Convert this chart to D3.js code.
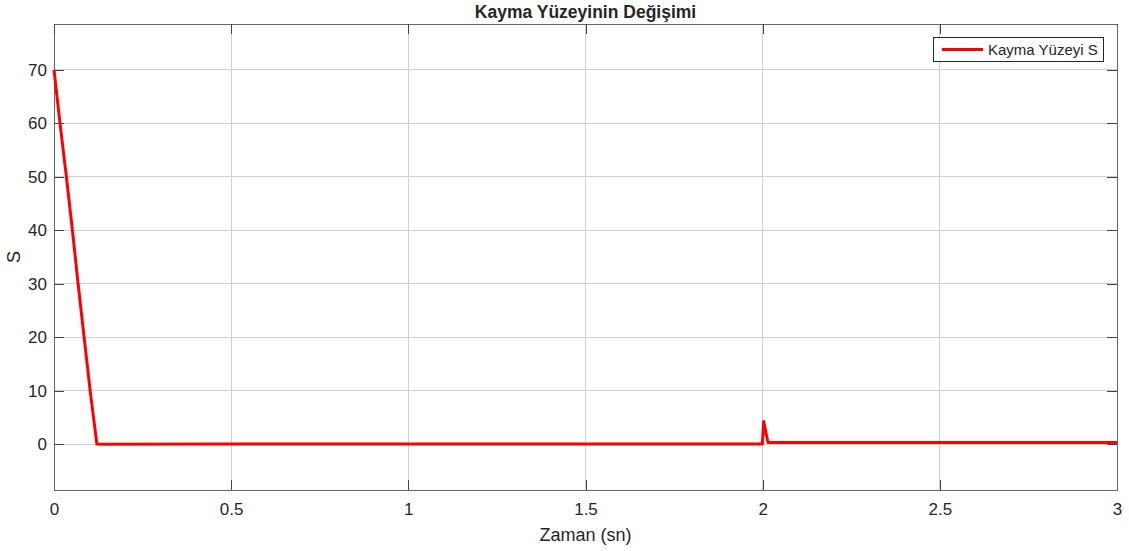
<!DOCTYPE html>
<html><head><meta charset="utf-8">
<script src="https://cdn.jsdelivr.net/npm/d3@7"></script>
<style>body{margin:0;background:#fff;} text{font-family:"Liberation Sans",Arial,sans-serif;fill:#262626;}</style>
</head><body><svg id="c" width="1129" height="551"></svg>
<script>
const timeValues = [0, 0.017, 0.035, 0.052, 0.068, 0.085, 0.102, 0.121, 0.13, 0.5, 1.0, 1.5, 1.999, 2.003, 2.015, 2.5, 3.0];
const sValues    = [70, 60, 50, 40, 30, 20, 10, 0, -0.05, 0, 0, 0, 0, 4.2, 0.3, 0.3, 0.3];
const xTicks = [0, 0.5, 1, 1.5, 2, 2.5, 3];
const xTickLabels = ["0", "0.5", "1", "1.5", "2", "2.5", "3"];
const yTicks = [0, 10, 20, 30, 40, 50, 60, 70];
const yTickLabels = ["0", "10", "20", "30", "40", "50", "60", "70"];
const titleText = "Kayma Yüzeyinin Değişimi";
const xLabel = "Zaman (sn)";
const yLabel = "S";
const seriesName = "Kayma Yüzeyi S";

const L = 54, R = 1117, T = 24, B = 490;
const svg = d3.select("#c");
const x = d3.scaleLinear().domain([0, 3]).range([L, R]);
const y = d3.scaleLinear().domain([-8.6, 78.6]).range([B, T]);

// grid
const g = svg.append("g");
g.selectAll(".gx").data(xTicks).enter().append("line")
  .attr("x1", d => x(d)).attr("x2", d => x(d)).attr("y1", T).attr("y2", B)
  .attr("stroke", "#cfcfcf").attr("stroke-width", 1).attr("shape-rendering","crispEdges");
g.selectAll(".gy").data(yTicks).enter().append("line")
  .attr("y1", d => y(d)).attr("y2", d => y(d)).attr("x1", L).attr("x2", R)
  .attr("stroke", "#cfcfcf").attr("stroke-width", 1).attr("shape-rendering","crispEdges");

// axes with inside ticks
const axB = d3.axisBottom(x).tickValues(xTicks).tickFormat((d,i)=>xTickLabels[i]).tickSizeInner(-10).tickSizeOuter(0).tickPadding(13);
const axL = d3.axisLeft(y).tickValues(yTicks).tickFormat((d,i)=>yTickLabels[i]).tickSizeInner(-10).tickSizeOuter(0).tickPadding(7);
const axT = d3.axisTop(x).tickValues(xTicks).tickFormat("").tickSizeInner(-10).tickSizeOuter(0);
const axR = d3.axisRight(y).tickValues(yTicks).tickFormat("").tickSizeInner(-10).tickSizeOuter(0);
function style(sel){
  sel.select(".domain").attr("stroke","#666").attr("shape-rendering","crispEdges");
  sel.selectAll(".tick line").attr("stroke","#444").attr("shape-rendering","crispEdges");
  sel.selectAll(".tick text").attr("font-size", 17).attr("fill","#262626").style("font-family","'Liberation Sans',Arial,sans-serif");
}
svg.append("g").attr("transform",`translate(0,${B})`).call(axB).call(style);
svg.append("g").attr("transform",`translate(${L},0)`).call(axL).call(style);
svg.append("g").attr("transform",`translate(0,${T})`).call(axT).call(style);
svg.append("g").attr("transform",`translate(${R},0)`).call(axR).call(style);

// line
const pts = timeValues.map((t,i)=>[t, sValues[i]]);
svg.append("path").datum(pts)
  .attr("d", d3.line().x(d=>x(d[0])).y(d=>y(d[1])))
  .attr("fill","none").attr("stroke","#ff0000").attr("stroke-width",3).attr("stroke-linejoin","round");

// title and labels
svg.append("text").attr("x", (L+R)/2).attr("y", 18).attr("text-anchor","middle")
  .attr("font-size",17.5).attr("font-weight","bold").attr("fill","#000").text(titleText);
svg.append("text").attr("x", (L+R)/2).attr("y", 541).attr("text-anchor","middle")
  .attr("font-size",18).text(xLabel);
svg.append("text").attr("transform",`translate(20,${(T+B)/2}) rotate(-90)`).attr("text-anchor","middle")
  .attr("font-size",18).text(yLabel);

// legend
const lg = svg.append("g");
lg.append("rect").attr("x",933.5).attr("y",37.5).attr("width",170).attr("height",24)
  .attr("fill","#fff").attr("stroke","#262626").attr("stroke-width",1);
lg.append("line").attr("x1",942).attr("x2",983).attr("y1",49.5).attr("y2",49.5)
  .attr("stroke","#ff0000").attr("stroke-width",3);
lg.append("text").attr("x",988).attr("y",55).attr("font-size",15).text(seriesName);
</script></body></html>
